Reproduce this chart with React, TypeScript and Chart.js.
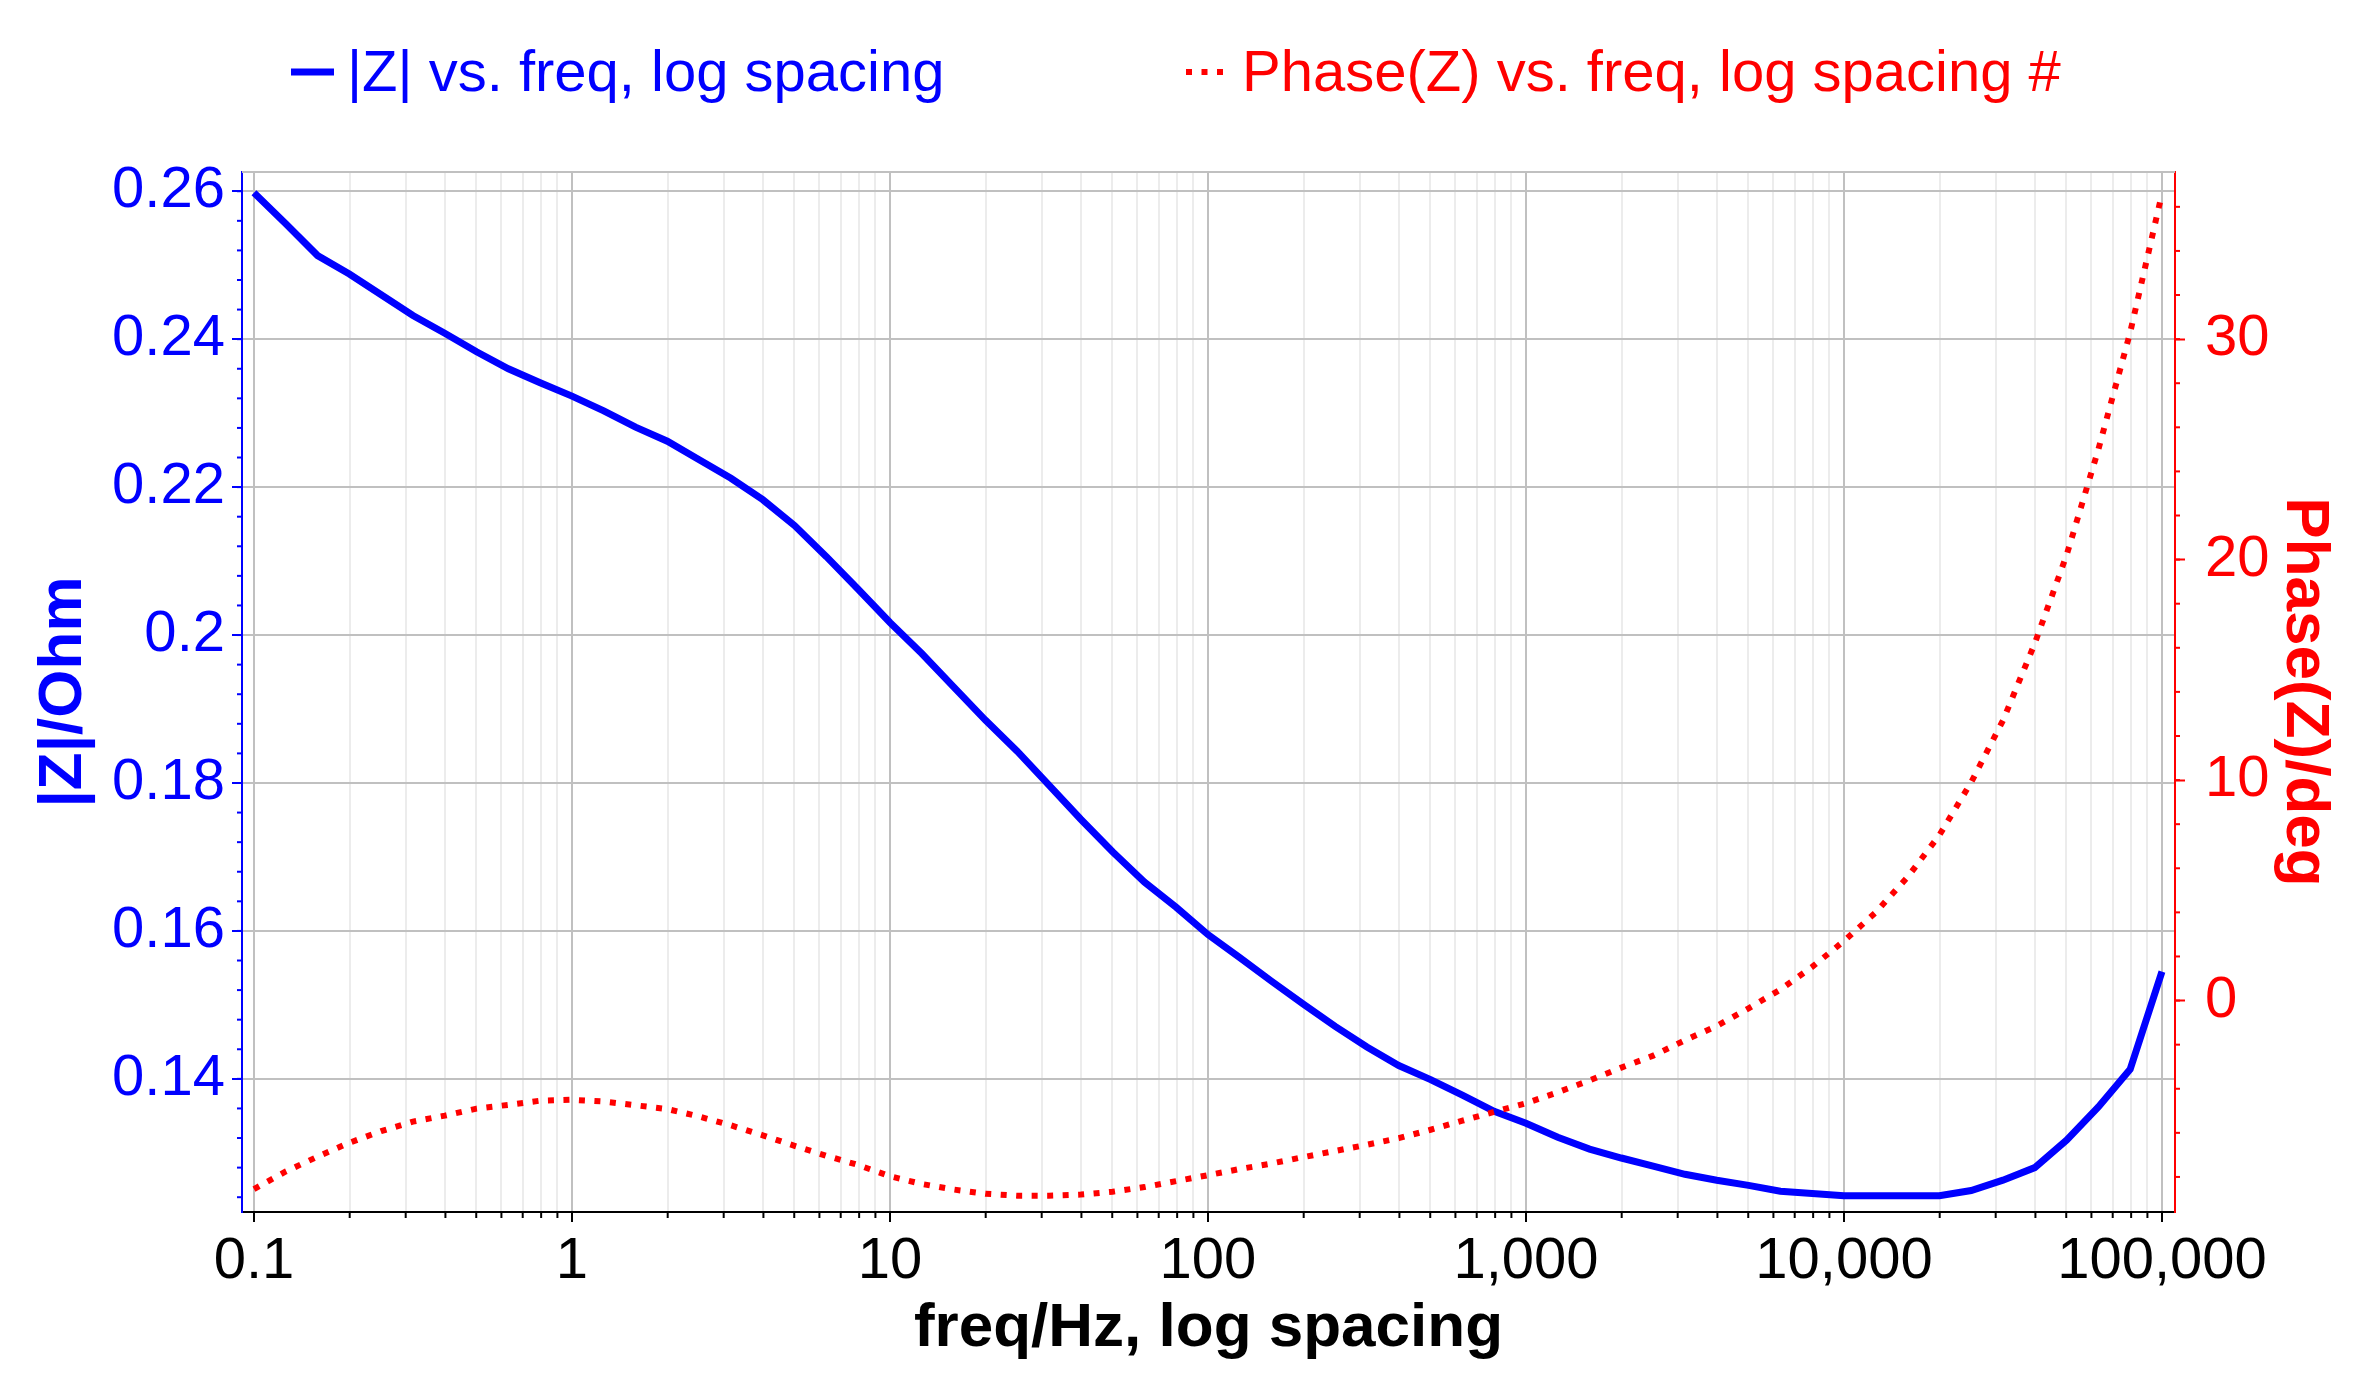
import React, { useRef, useEffect } from "react";
import { Chart, registerables } from "chart.js";

Chart.register(...registerables);

// frequency points (Hz), 10 per decade
const freqs = [
  0.1, 0.1259, 0.1585, 0.1995, 0.2512, 0.3162, 0.3981, 0.5012, 0.631, 0.7943,
  1, 1.259, 1.585, 1.995, 2.512, 3.162, 3.981, 5.012, 6.31, 7.943,
  10, 12.59, 15.85, 19.95, 25.12, 31.62, 39.81, 50.12, 63.1, 79.43,
  100, 125.9, 158.5, 199.5, 251.2, 316.2, 398.1, 501.2, 631, 794.3,
  1000, 1259, 1585, 1995, 2512, 3162, 3981, 5012, 6310, 7943,
  10000, 12590, 15850, 19950, 25120, 31620, 39810, 50120, 63100, 79430,
  100000,
];

// |Z| in Ohm
const zValues = [
  0.2598, 0.2556, 0.2513, 0.2488, 0.246, 0.2432, 0.2408, 0.2383, 0.236, 0.2341,
  0.2323, 0.2303, 0.2281, 0.2262, 0.2237, 0.2212, 0.2183, 0.2148, 0.2106, 0.2062,
  0.2017, 0.1975, 0.193, 0.1885, 0.1843, 0.1797, 0.1751, 0.1707, 0.1666, 0.1632,
  0.1595, 0.1564, 0.1532, 0.1501, 0.1471, 0.1443, 0.1418, 0.1399, 0.1378, 0.1356,
  0.134, 0.1321, 0.1305, 0.1293, 0.1282, 0.1271, 0.1263, 0.1256, 0.1248, 0.1245,
  0.1242, 0.1242, 0.1242, 0.1242, 0.1249, 0.1263, 0.128, 0.1317, 0.1362, 0.1413,
  0.1545,
];

// Phase(Z) in degrees
const phaseValues = [
  -8.55, -7.75, -7.08, -6.45, -5.92, -5.49, -5.22, -4.9, -4.73, -4.54,
  -4.5, -4.58, -4.75, -4.92, -5.26, -5.66, -6.11, -6.59, -7.04, -7.46,
  -7.97, -8.32, -8.57, -8.76, -8.85, -8.85, -8.8, -8.67, -8.46, -8.19,
  -7.92, -7.64, -7.39, -7.1, -6.82, -6.54, -6.24, -5.86, -5.45, -5.05,
  -4.66, -4.16, -3.62, -3.04, -2.5, -1.8, -1.15, -0.35, 0.5, 1.53,
  2.7, 4.0, 5.6, 7.5, 9.9, 12.7, 16.2, 20.2, 25.0, 30.3,
  36.6,
];

const xTickValues = [0.1, 1, 10, 100, 1000, 10000, 100000];
const xTickLabels = ["0.1", "1", "10", "100", "1,000", "10,000", "100,000"];
const yTickValues = [0.14, 0.16, 0.18, 0.2, 0.22, 0.24, 0.26];
const yTickLabels = ["0.14", "0.16", "0.18", "0.2", "0.22", "0.24", "0.26"];
const y1TickValues = [0, 10, 20, 30];
const y1TickLabels = ["0", "10", "20", "30"];

const zLabel = "|Z| vs. freq, log spacing";
const phaseLabel = "Phase(Z) vs. freq, log spacing #";

const BLUE = "#0000ff";
const RED = "#ff0000";
const FONT = "'Liberation Sans', Arial, Helvetica, sans-serif";

// minor positions of the log axis (2..9 per decade)
const xMinor: number[] = [];
xTickValues.slice(0, -1).forEach((d) => {
  for (let m = 2; m <= 9; m++) xMinor.push(+(d * m).toPrecision(3));
});
const xAllTicks = [...xTickValues, ...xMinor].sort((a, b) => a - b);

const extras = {
  id: "extras",
  afterDraw(chart: any) {
    const { ctx, chartArea } = chart;
    const sx = chart.scales.x;
    const sy = chart.scales.y;
    const sy1 = chart.scales.y1;
    ctx.save();
    // frame top
    ctx.strokeStyle = "#c0c0c0";
    ctx.lineWidth = 2;
    ctx.beginPath();
    ctx.moveTo(chartArea.left, chartArea.top);
    ctx.lineTo(chartArea.right, chartArea.top);
    ctx.stroke();

    // minor ticks
    ctx.lineWidth = 2;
    ctx.strokeStyle = "#000";
    xMinor.forEach((v) => {
      const px = sx.getPixelForValue(v);
      ctx.beginPath();
      ctx.moveTo(px, chartArea.bottom);
      ctx.lineTo(px, chartArea.bottom + 6);
      ctx.stroke();
    });
    ctx.strokeStyle = BLUE;
    for (let v = 0.124; v < sy.max; v += 0.004) {
      const py = sy.getPixelForValue(v);
      ctx.beginPath();
      ctx.moveTo(chartArea.left, py);
      ctx.lineTo(chartArea.left - 5, py);
      ctx.stroke();
    }
    ctx.strokeStyle = RED;
    for (let v = -8; v < sy1.max; v += 2) {
      const py = sy1.getPixelForValue(v);
      ctx.beginPath();
      ctx.moveTo(chartArea.right, py);
      ctx.lineTo(chartArea.right + 5, py);
      ctx.stroke();
    }

    // legend
    ctx.font = `58px ${FONT}`;
    ctx.textBaseline = "alphabetic";
    ctx.textAlign = "left";
    ctx.strokeStyle = BLUE;
    ctx.lineWidth = 7;
    ctx.beginPath();
    ctx.moveTo(291, 72);
    ctx.lineTo(334, 72);
    ctx.stroke();
    ctx.fillStyle = BLUE;
    ctx.fillText(zLabel, 347, 91);

    ctx.fillStyle = RED;
    [1186, 1201.5, 1217].forEach((dx) => ctx.fillRect(dx, 69, 6, 6));
    ctx.fillText(phaseLabel, 1242, 91);
    ctx.restore();
  },
};

const App = () => {
  const chartRef = useRef<HTMLCanvasElement>(null);

  useEffect(() => {
    if (!chartRef.current) return;
    const ctx = chartRef.current.getContext("2d");
    if (!ctx) return;

    const chart = new Chart(ctx, {
      type: "line",
      data: {
        datasets: [
          {
            label: zLabel,
            data: freqs.map((f, i) => ({ x: f, y: zValues[i] })),
            yAxisID: "y",
            borderColor: BLUE,
            backgroundColor: BLUE,
            borderWidth: 7,
            pointRadius: 0,
            tension: 0,
            order: 1,
          },
          {
            label: phaseLabel,
            data: freqs.map((f, i) => ({ x: f, y: phaseValues[i] })),
            yAxisID: "y1",
            borderColor: RED,
            backgroundColor: RED,
            borderWidth: 6,
            borderDash: [6, 9.5],
            borderCapStyle: "butt",
            pointRadius: 0,
            tension: 0,
            order: 0,
          },
        ],
      },
      options: {
        animation: false,
        responsive: true,
        maintainAspectRatio: false,
        layout: { padding: { top: 172, left: 0, right: 0, bottom: 0 } },
        plugins: {
          legend: { display: false },
          tooltip: { enabled: false },
        },
        scales: {
          x: {
            type: "logarithmic",
            min: 0.0917,
            max: 109900,
            afterBuildTicks: (scale: any) => {
              scale.ticks = xAllTicks.map((v) => ({ value: v }));
            },
            afterFit: (scale: any) => {
              scale.height = 183;
            },
            ticks: {
              autoSkip: false,
              maxRotation: 0,
              minRotation: 0,
              padding: 5,
              color: "#000",
              font: { family: FONT, size: 58 },
              callback: (value: any) => {
                const i = xTickValues.indexOf(Number(value));
                return i >= 0 ? xTickLabels[i] : "";
              },
            },
            grid: {
              color: (c: any) =>
                xTickValues.includes(c.tick?.value) ? "#c0c0c0" : "#ececec",
              lineWidth: 2,
              tickLength: 10,
              tickWidth: 2,
              tickColor: (c: any) =>
                xTickValues.includes(c.tick?.value) ? "#000" : "rgba(0,0,0,0)",
            },
            border: { color: "#000", width: 2 },
            title: {
              display: true,
              text: "freq/Hz, log spacing",
              color: "#000",
              font: { family: FONT, size: 62, weight: "bold" },
              padding: { top: 0, bottom: 29 },
            },
          },
          y: {
            type: "linear",
            position: "left",
            min: 0.122,
            max: 0.2626,
            afterBuildTicks: (scale: any) => {
              scale.ticks = yTickValues.map((v) => ({ value: v }));
            },
            afterFit: (scale: any) => {
              scale.width = 242;
            },
            ticks: {
              padding: 7,
              color: BLUE,
              font: { family: FONT, size: 58 },
              callback: (value: any) => {
                const i = yTickValues.indexOf(Number(value));
                return i >= 0 ? yTickLabels[i] : "";
              },
            },
            grid: {
              color: "#c0c0c0",
              lineWidth: 2,
              tickLength: 10,
              tickWidth: 2,
              tickColor: BLUE,
            },
            border: { color: BLUE, width: 2 },
            title: {
              display: true,
              text: "|Z|/Ohm",
              color: BLUE,
              font: { family: FONT, size: 62, weight: "bold" },
              padding: { top: 27, bottom: 0 },
            },
          },
          y1: {
            type: "linear",
            position: "right",
            min: -9.59,
            max: 37.58,
            afterBuildTicks: (scale: any) => {
              scale.ticks = y1TickValues.map((v) => ({ value: v }));
            },
            afterFit: (scale: any) => {
              scale.width = 184;
            },
            ticks: {
              padding: 20,
              color: RED,
              font: { family: FONT, size: 58 },
              callback: (value: any) => {
                const i = y1TickValues.indexOf(Number(value));
                return i >= 0 ? y1TickLabels[i] : "";
              },
            },
            grid: {
              drawOnChartArea: false,
              tickLength: 10,
              tickWidth: 2,
              tickColor: RED,
            },
            border: { color: RED, width: 2 },
            title: {
              display: true,
              text: "Phase(Z)/deg",
              color: RED,
              font: { family: FONT, size: 62, weight: "bold" },
              padding: { top: 18, bottom: 0 },
            },
          },
        },
      },
      plugins: [extras],
    });

    return () => {
      chart.destroy();
    };
  }, []);

  return (
    <div
      style={{
        position: "fixed",
        left: 0,
        top: 0,
        width: 2359,
        height: 1395,
        background: "#fff",
      }}
    >
      <canvas ref={chartRef} />
    </div>
  );
};

export default App;
